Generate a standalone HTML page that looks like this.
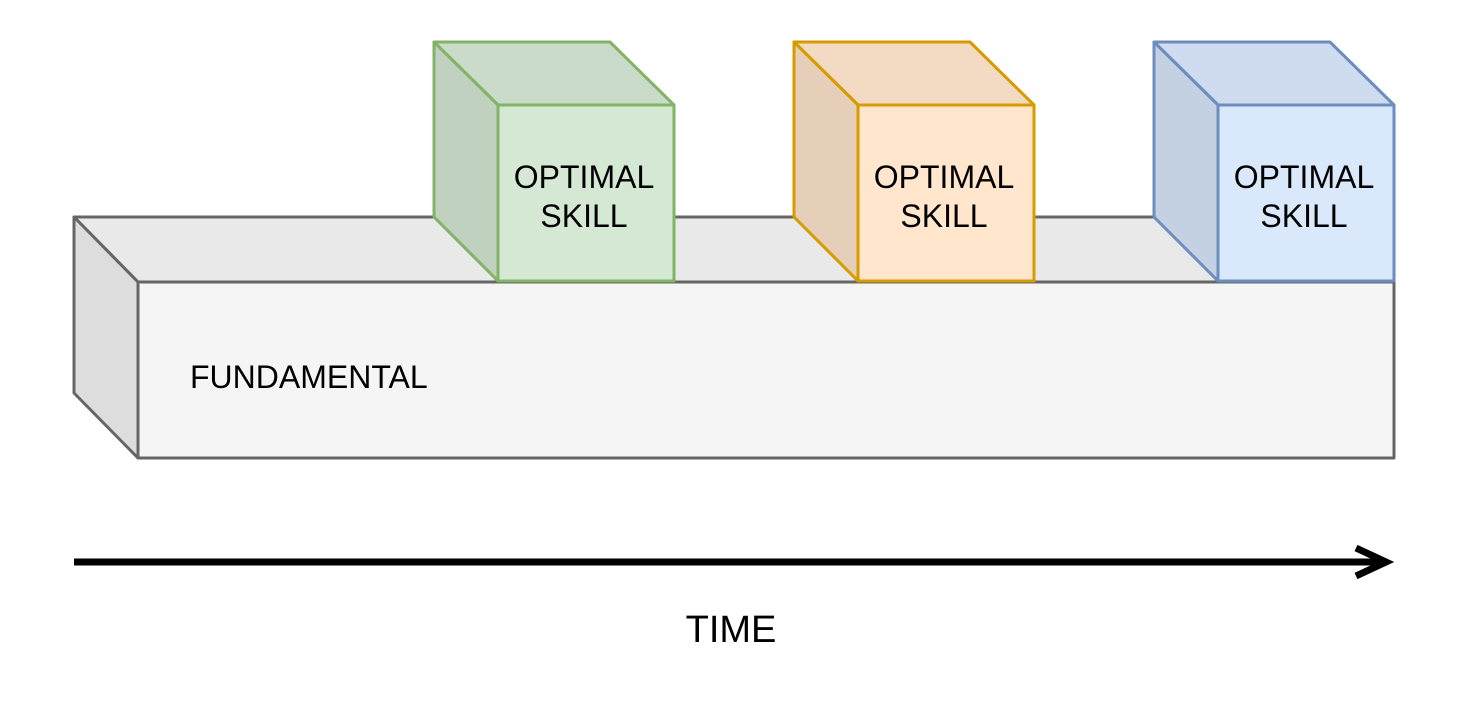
<!DOCTYPE html>
<html>
<head>
<meta charset="utf-8">
<style>
  html, body { margin: 0; padding: 0; background: #ffffff; }
  svg { display: block; }
  text { font-family: "Liberation Sans", Arial, sans-serif; fill: #000000; }
</style>
</head>
<body>
<svg width="1472" height="708" viewBox="0 0 1472 708" xmlns="http://www.w3.org/2000/svg">
  <!-- FUNDAMENTAL block -->
  <g stroke="#666666" stroke-width="3" stroke-linejoin="round">
    <polygon points="74,217 1330,217 1394,282 138,282" fill="#e9e9e9"/>
    <polygon points="74,217 138,282 138,458 74,393" fill="#dddddd"/>
    <rect x="138" y="282" width="1256" height="176" fill="#f5f5f5"/>
  </g>
  <text x="190" y="388" font-size="32">FUNDAMENTAL</text>

  <!-- Green cube -->
  <g stroke="#82b366" stroke-width="3" stroke-linejoin="round">
    <polygon points="434,42 610,42 674,105 498,105" fill="#cadcc9"/>
    <polygon points="434,42 498,105 498,281 434,217" fill="#c0d1bf"/>
    <rect x="498" y="105" width="176" height="176" fill="#d5e8d4"/>
  </g>
  <text x="584" y="188" font-size="32" text-anchor="middle">OPTIMAL</text>
  <text x="584" y="227" font-size="32" text-anchor="middle">SKILL</text>

  <!-- Orange cube -->
  <g stroke="#d79b00" stroke-width="3" stroke-linejoin="round">
    <polygon points="794,42 970,42 1034,105 858,105" fill="#f2dbc2"/>
    <polygon points="794,42 858,105 858,281 794,217" fill="#e6cfb8"/>
    <rect x="858" y="105" width="176" height="176" fill="#ffe6cc"/>
  </g>
  <text x="944" y="188" font-size="32" text-anchor="middle">OPTIMAL</text>
  <text x="944" y="227" font-size="32" text-anchor="middle">SKILL</text>

  <!-- Blue cube -->
  <g stroke="#6c8ebf" stroke-width="3" stroke-linejoin="round">
    <polygon points="1154,42 1330,42 1394,105 1218,105" fill="#cfdcef"/>
    <polygon points="1154,42 1218,105 1218,281 1154,217" fill="#c4d1e3"/>
    <rect x="1218" y="105" width="176" height="176" fill="#dae8fc"/>
  </g>
  <text x="1304" y="188" font-size="32" text-anchor="middle">OPTIMAL</text>
  <text x="1304" y="227" font-size="32" text-anchor="middle">SKILL</text>

  <!-- TIME arrow -->
  <line x1="74" y1="562" x2="1386" y2="562" stroke="#000000" stroke-width="7"/>
  <polyline points="1356,548 1386,562 1356,576" fill="none" stroke="#000000" stroke-width="7" stroke-linejoin="miter" stroke-miterlimit="10"/>
  <text x="731" y="642" font-size="38" text-anchor="middle">TIME</text>
</svg>
</body>
</html>
